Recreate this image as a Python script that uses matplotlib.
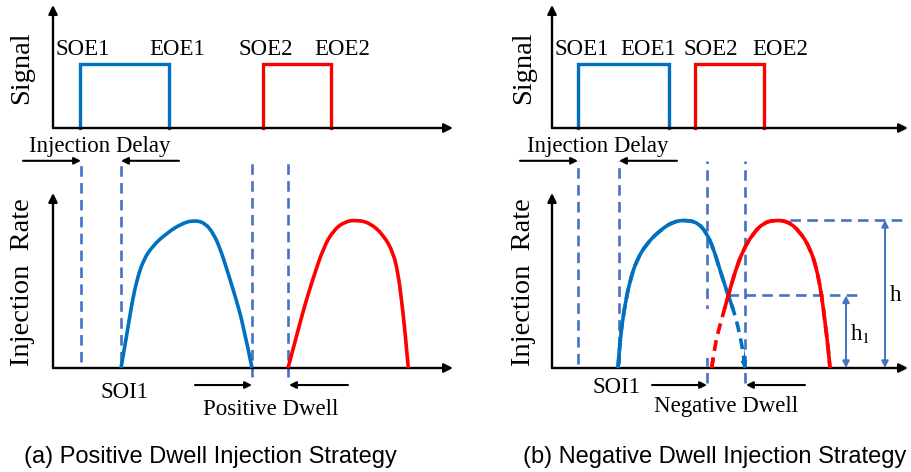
import matplotlib
matplotlib.use('agg')
import matplotlib.pyplot as plt
from matplotlib.patches import Rectangle, PathPatch
from matplotlib.path import Path

plt.rcParams['font.family'] = ['Liberation Serif', 'DejaVu Serif']
plt.rcParams['mathtext.fontset'] = 'stix'

BLUE = '#0070C0'
RED = '#FF0000'
GUIDE = '#4472C4'

# energizing signal: (start, end) of each pulse
pos_pulse1 = [27, 116]
pos_pulse2 = [210, 278]
neg_pulse1 = [26, 117]
neg_pulse2 = [143, 212]
pulse_names = ['SOE1', 'EOE1', 'SOE2', 'EOE2']

# injection rate traces, rate normalised to the peak
pos_t1 = [68, 73.7, 78.7, 83.7, 90.3, 100.3, 113.7, 127, 140.3, 152, 160.3, 167, 173.7, 182, 190.3, 199]
pos_r1 = [0, 0.22, 0.43, 0.59, 0.73, 0.83, 0.91, 0.97, 1.0, 0.98, 0.91, 0.81, 0.67, 0.49, 0.29, 0]
pos_t2 = [235, 243.7, 252, 260.3, 270.3, 280.3, 292, 303.7, 317, 330.3, 340.3, 345.3, 348.7, 352, 355.3]
pos_r2 = [0, 0.22, 0.43, 0.61, 0.81, 0.93, 0.99, 1.0, 0.98, 0.9, 0.78, 0.63, 0.45, 0.25, 0]

neg_t1 = [66, 68, 73, 78, 84.7, 94.7, 108, 121.3, 134.7, 146.3, 154.7, 161.3, 168, 176.3, 183, 188, 191.5, 193]
neg_r1 = [0, 0.2, 0.43, 0.59, 0.73, 0.84, 0.93, 0.99, 1.0, 0.98, 0.91, 0.81, 0.66, 0.49, 0.36, 0.22, 0.09, 0]
neg_t2 = [159.7, 163, 168, 176.3, 183, 191.3, 201.3, 211.3, 223, 236.3, 248, 258, 264.7, 269.7, 273, 276.3, 278]
neg_r2 = [0, 0.16, 0.29, 0.49, 0.65, 0.8, 0.91, 0.98, 1.0, 0.99, 0.92, 0.81, 0.67, 0.49, 0.31, 0.13, 0]

# event times marked with dashed guides: SOE1, SOI1, EOI1, SOI2
pos_events = [28, 68, 199, 235]
neg_events = [26, 67, 155, 193]

h_peak = 1.0
h_cross = 0.49
t_cross = 176.3

W_FIG, H_FIG = 911, 472
GUIDE_LS = (0, (4.0, 2.4))
fig = plt.figure(figsize=(9.11, 4.72), dpi=100)


def add_px_axes(x0, y_base, w, h, ymax):
    ax = fig.add_axes([x0 / W_FIG, (H_FIG - y_base) / H_FIG, w / W_FIG, h / H_FIG])
    ax.set_xlim(0, w)
    ax.set_ylim(0, ymax)
    ax.axis('off')
    return ax


def arrow(ax, x0, y0, x1, y1, color='black', lw=1.5, style='-|>', ms=12):
    ax.annotate('', xy=(x1, y1), xytext=(x0, y0),
                arrowprops=dict(arrowstyle=style, color=color, lw=lw, shrinkA=0, shrinkB=0,
                                mutation_scale=ms),
                annotation_clip=False)


def smooth_path(t, r):
    # quadratic bezier through the midpoints, using the read points as controls
    pts = list(zip(t, r))
    verts = [pts[0]]
    codes = [Path.MOVETO]
    for i in range(1, len(pts) - 1):
        nxt = pts[i + 1] if i == len(pts) - 2 else (
            (pts[i][0] + pts[i + 1][0]) / 2, (pts[i][1] + pts[i + 1][1]) / 2)
        verts += [pts[i], nxt]
        codes += [Path.CURVE3, Path.CURVE3]
    return Path(verts, codes)


def draw_trace(ax, t, r, color, z, ls='-'):
    patch = PathPatch(smooth_path(t, r), facecolor='none', edgecolor=color, lw=2.6,
                      ls=ls, zorder=z, clip_on=False, capstyle='butt')
    ax.add_patch(patch)
    return patch


def draw_pulse(ax, pulse, color):
    s, e = pulse
    ax.plot([s, s, e, e], [0, 1, 1, 0], color=color, lw=2.4, solid_joinstyle='miter', clip_on=False)


def draw_panel(x0, width, pulses, label_x, traces, events, guide_low,
               soi_x, soi_y, dwell_arrows, dwell_text, dwell_y, sig_x, rate_x, caption, cap_x):
    sig = add_px_axes(x0, 128, width, 123, 123 / 64)
    rate = add_px_axes(x0, 368, width, 175, 175 / 148)
    for ax, ymax in [(sig, 123 / 64), (rate, 175 / 148)]:
        arrow(ax, 0, 0, width, 0, lw=1.7, ms=13)
        arrow(ax, 0, 0, 0, ymax, lw=1.7, ms=13)

    draw_pulse(sig, pulses[0], BLUE)
    draw_pulse(sig, pulses[1], RED)
    for name, lx in zip(pulse_names, label_x):
        sig.text(lx, 1.14, name, ha='center', va='baseline', fontsize=16.5)

    # injection delay
    d0, d1 = events[0], events[1]
    rate.text((d0 + d1) / 2 - 1, 1.46, 'Injection Delay', ha='center', va='baseline', fontsize=16.5)
    arrow(rate, d0 - 58, 1.40, d0, 1.40, ms=10)
    arrow(rate, d1 + 58, 1.40, d1, 1.40, ms=10)

    # dashed guides from the signal down to the rate trace
    for ev, low in zip(events, guide_low):
        rate.plot([ev, ev], [low, 1.40], color=GUIDE, lw=1.9, ls=GUIDE_LS,
                  clip_on=False, zorder=2)

    patches = [draw_trace(rate, t, r, color, z)
               for (t, r), color, z in zip(traces, [BLUE, RED], [3, 3.5])]

    rate.text(soi_x, soi_y, 'SOI1', ha='center', va='baseline', fontsize=16.5)
    (a0, a1), (b0, b1) = dwell_arrows
    arrow(rate, a0, -0.115, a1, -0.115, ms=10)
    arrow(rate, b0, -0.115, b1, -0.115, ms=10)
    rate.text((a1 + b1) / 2, dwell_y, dwell_text, ha='center', va='baseline', fontsize=16.5)

    fig.text(sig_x / W_FIG, 1 - 68 / H_FIG, 'Signal', rotation=90, ha='center', va='center',
             fontsize=20.5)
    fig.text(rate_x / W_FIG, 1 - 282 / H_FIG, 'Injection  Rate', rotation=90, ha='center',
             va='center', fontsize=20.5)
    fig.text(cap_x / W_FIG, 1 - 463 / H_FIG, caption, ha='center', va='baseline', fontsize=17,
             family=['Liberation Sans', 'DejaVu Sans'])
    return sig, rate


# (a) positive dwell
draw_panel(53, 400, [pos_pulse1, pos_pulse2], [30, 124, 213, 289],
           [(pos_t1, pos_r1), (pos_t2, pos_r2)], pos_events, [0.04, 0.04, -0.06, -0.06],
           71, -0.20, [(142, 199), (295, 236)], 'Positive Dwell', -0.32,
           22, 23, '(a) Positive Dwell Injection Strategy', 210)

# (b) negative dwell
sig_b, rate_b = draw_panel(
    552, 356, [neg_pulse1, neg_pulse2], [30, 96, 159, 228],
    [(neg_t1, neg_r1), (neg_t2, neg_r2)], neg_events, [0.03, 0.03, -0.10, -0.10],
    65, -0.17, [(100, 155), (253, 194)], 'Negative Dwell', -0.30,
    524, 523, '(b) Negative Dwell Injection Strategy', 715)

# overlapping region: hidden parts of both traces shown dashed
box = Rectangle((153.5, 0.07), 38.5, 0.33, facecolor='white', edgecolor='none', zorder=4)
rate_b.add_patch(box)
for (t, r), color, z in zip([(neg_t1, neg_r1), (neg_t2, neg_r2)], [BLUE, RED], [5, 5.5]):
    dp = draw_trace(rate_b, t, r, color, z, ls=(0, (3.0, 1.8)))
    dp.set_clip_path(box)
arrow(rate_b, neg_t1[-3], neg_r1[-3], neg_t1[-1], neg_r1[-1], color=BLUE, lw=1.2, ms=9)

# peak height h and crossing height h1
rate_b.plot([221, 353], [h_peak, h_peak], color=GUIDE, lw=1.9, ls=GUIDE_LS, clip_on=False)
rate_b.plot([t_cross, 308], [h_cross, h_cross], color=GUIDE, lw=1.9, ls=GUIDE_LS, clip_on=False)
arrow(rate_b, 333, 0, 333, h_peak, color=GUIDE, lw=1.4, style='<|-|>', ms=10)
arrow(rate_b, 294, 0, 294, h_cross, color=GUIDE, lw=1.4, style='<|-|>', ms=10)
rate_b.text(338, 0.45, 'h', ha='left', va='baseline', fontsize=16.5)
rate_b.text(298, 0.19, 'h$_1$', ha='left', va='baseline', fontsize=16.5)

fig.savefig('out.png', dpi=100)
